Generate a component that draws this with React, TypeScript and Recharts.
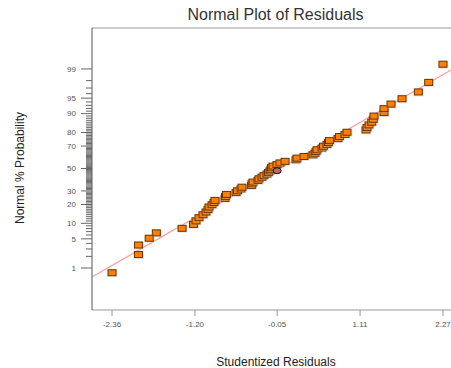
import { ScatterChart, Scatter, XAxis, YAxis, ReferenceLine } from "recharts";

// studentized residuals, sorted
const residuals = [
  -2.36, -1.99, -1.99, -1.84, -1.74, -1.38, -1.22, -1.185, -1.143, -1.087,
  -1.045, -1.017, -1.003, -0.961, -0.933, -0.919, -0.779, -0.772, -0.758, -0.625,
  -0.604, -0.555, -0.542, -0.409, -0.402, -0.388, -0.318, -0.304, -0.262, -0.234,
  -0.192, -0.171, -0.15, -0.136, -0.129, -0.108, -0.052, -0.01, 0.06, 0.214,
  0.228, 0.326, 0.452, 0.48, 0.494, 0.508, 0.577, 0.598, 0.647, 0.668,
  0.682, 0.801, 0.822, 0.899, 0.927, 1.193, 1.207, 1.235, 1.273, 1.295,
  1.305, 1.445, 1.445, 1.543, 1.697, 1.925, 2.07, 2.27,
];

// normal % probability of each residual
const probabilities = [
  0.74, 2.21, 3.68, 5.15, 6.62, 8.09, 9.56, 11.03, 12.5, 13.97,
  15.44, 16.91, 18.38, 19.85, 21.32, 22.79, 24.26, 25.74, 27.21, 28.68,
  30.15, 31.62, 33.09, 34.56, 36.03, 37.5, 38.97, 40.44, 41.91, 43.38,
  44.85, 46.32, 47.79, 49.26, 50.74, 52.21, 53.68, 55.15, 56.62, 58.09,
  59.56, 61.03, 62.5, 63.97, 65.44, 66.91, 68.38, 69.85, 71.32, 72.79,
  74.26, 75.74, 77.21, 78.68, 80.15, 81.62, 83.09, 84.56, 86.03, 87.5,
  88.97, 90.44, 91.91, 93.38, 94.85, 96.32, 97.79, 99.26,
];

const highlight = { r: -0.05, p: 47.9 };

const xTicks = [-2.36, -1.2, -0.05, 1.11, 2.27];
const majorProbTicks = [1, 5, 10, 20, 30, 50, 70, 80, 90, 95, 99];

// fitted normal line
const fitMean = -0.007;
const fitSd = 1.038;

const X_MIN = -2.64;
const X_MAX = 2.382;
const Z_MIN = -3.308;
const Z_MAX = 3.284;

const FONT = "'Liberation Sans', Arial, sans-serif";

// inverse normal cdf (Acklam)
function probit(p: number) {
  const a = [-39.69683028665376, 220.9460984245205, -275.9285104469687, 138.357751867269, -30.66479806614716, 2.506628277459239];
  const b = [-54.47609879822406, 161.5858368580409, -155.6989798598866, 66.80131188771972, -13.28068155288572];
  const c = [-0.007784894002430293, -0.3223964580411365, -2.400758277161838, -2.549732539343734, 4.374664141464968, 2.938163982698783];
  const d = [0.007784695709041462, 0.3224671290700398, 2.445134137142996, 3.754408661907416];
  const pl = 0.02425;
  if (p < pl) {
    const q = Math.sqrt(-2 * Math.log(p));
    return (((((c[0] * q + c[1]) * q + c[2]) * q + c[3]) * q + c[4]) * q + c[5]) / ((((d[0] * q + d[1]) * q + d[2]) * q + d[3]) * q + 1);
  }
  if (p > 1 - pl) {
    const q = Math.sqrt(-2 * Math.log(1 - p));
    return -(((((c[0] * q + c[1]) * q + c[2]) * q + c[3]) * q + c[4]) * q + c[5]) / ((((d[0] * q + d[1]) * q + d[2]) * q + d[3]) * q + 1);
  }
  const q = p - 0.5;
  const r = q * q;
  return ((((((a[0] * r + a[1]) * r + a[2]) * r + a[3]) * r + a[4]) * r + a[5]) * q) / (((((b[0] * r + b[1]) * r + b[2]) * r + b[3]) * r + b[4]) * r + 1);
}

const points = residuals.map((r, i) => ({ x: r, z: probit(probabilities[i] / 100) }));
const highlightPoint = [{ x: highlight.r, z: probit(highlight.p / 100) }];

const minorProbTicks: number[] = [];
for (let p = 2; p <= 98; p++) if (!majorProbTicks.includes(p)) minorProbTicks.push(p);

const majorZ = majorProbTicks.map((p) => probit(p / 100));
const yTicks = [...majorZ, ...minorProbTicks.map((p) => probit(p / 100))];

const fitZ = (x: number) => (x - fitMean) / fitSd;

function ProbTick(props: any) {
  const { x, y, payload } = props;
  const idx = majorZ.findIndex((z) => Math.abs(z - payload.value) < 1e-9);
  if (idx < 0) {
    return <line x1={x - 6} x2={x} y1={y} y2={y} stroke="#666" strokeWidth={1} />;
  }
  return (
    <g>
      <line x1={x - 11} x2={x} y1={y} y2={y} stroke="#666" strokeWidth={1} />
      <text x={x - 16} y={y} dy="0.35em" textAnchor="end" fontSize={8} fill="#555" fontFamily={FONT}>
        {majorProbTicks[idx]}
      </text>
    </g>
  );
}

// orange square with a soft grey shadow, like the original export
function Square(props: any) {
  const { cx, cy } = props;
  return (
    <g>
      <rect x={cx - 4.5} y={cy - 3.5} width={10} height={8} fill="#bbb" opacity={0.35} />
      <rect x={cx - 4} y={cy - 3} width={8} height={6} fill="#ff8000" stroke="#6b3300" strokeWidth={1} />
    </g>
  );
}

function Dot(props: any) {
  const { cx, cy } = props;
  return <ellipse cx={cx} cy={cy} rx={4} ry={3} fill="#c86464" stroke="#111" strokeWidth={1} />;
}

export default function App() {
  return (
    <div style={{ position: "absolute", left: 0, top: 0, width: 451, height: 368, fontFamily: FONT, background: "#fff" }}>
      <div style={{ position: "absolute", left: 0, width: 551, top: 6, textAlign: "center", fontSize: 16, color: "#333", lineHeight: "18px" }}>
        Normal Plot of Residuals
      </div>
      <ScatterChart width={451} height={368} margin={{ top: 28, right: 0, bottom: 0, left: 0 }}>
        <XAxis
          type="number"
          dataKey="x"
          domain={[X_MIN, X_MAX]}
          ticks={xTicks}
          interval={0}
          allowDataOverflow
          height={58}
          tickSize={6}
          tickMargin={5}
          stroke="#999"
          tick={{ fontSize: 8, fill: "#555", fontFamily: FONT }}
          tickFormatter={(v: number) => v.toFixed(2)}
        />
        <YAxis
          type="number"
          dataKey="z"
          domain={[Z_MIN, Z_MAX]}
          ticks={yTicks}
          interval={0}
          allowDataOverflow
          width={92}
          tickSize={0}
          tickMargin={0}
          tickLine={false}
          stroke="#555"
          tick={<ProbTick />}
        />
        <ReferenceLine y={Z_MAX} stroke="#999" />
        <ReferenceLine
          segment={[
            { x: X_MIN, y: fitZ(X_MIN) },
            { x: X_MAX, y: fitZ(X_MAX) },
          ]}
          stroke="#f7a1a1"
          strokeWidth={1.3}
        />
        <Scatter data={points} shape={<Square />} isAnimationActive={false} />
        <Scatter data={highlightPoint} shape={<Dot />} isAnimationActive={false} />
      </ScatterChart>
      <div style={{ position: "absolute", left: 176, width: 200, top: 355, textAlign: "center", fontSize: 12, color: "#222", lineHeight: "14px" }}>
        Studentized Residuals
      </div>
      <div
        style={{
          position: "absolute",
          left: 20 - 80,
          top: 168 - 7,
          width: 160,
          height: 14,
          lineHeight: "14px",
          textAlign: "center",
          fontSize: 12,
          color: "#222",
          transform: "rotate(-90deg)",
        }}
      >
        Normal % Probability
      </div>
    </div>
  );
}
